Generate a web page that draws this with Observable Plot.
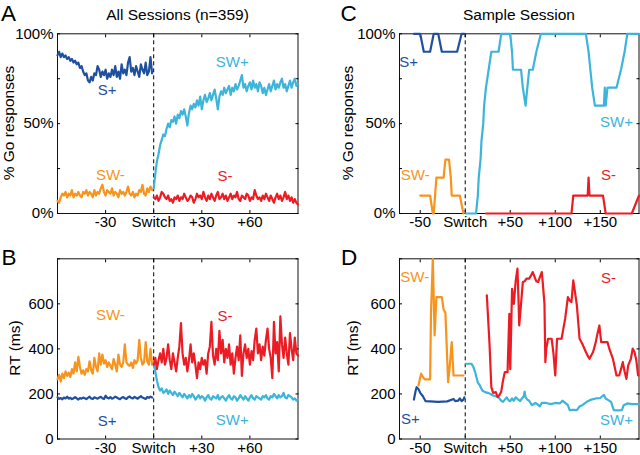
<!DOCTYPE html>
<html><head><meta charset="utf-8">
<script src="https://cdn.jsdelivr.net/npm/d3@7"></script>
<script src="https://cdn.jsdelivr.net/npm/@observablehq/plot@0.6"></script>
<style>
body{margin:0;background:#fff;}
#wrap{position:relative;width:640px;height:455px;overflow:hidden;background:#fff;}
#wrap svg{position:absolute;overflow:visible;max-width:none;}
</style></head><body><div id="wrap"></div>
<script>
// ---------- colours ----------
const colSplus = "#1f4f9f", colSWplus = "#3db4da", colSWminus = "#f7941e", colSminus = "#ec1c24";

// ---------- Panel A: % Go, all sessions ----------
const A_pre = d3.range(-60, 0);   // trials -60..-1
const A_post = d3.range(0, 91);   // trials 0..90
const A_Splus = [88,90,87,89,87,88,86,87,85,86, 84,85,83,84,81,82,79,77,78,74, 73,76,74,78,77,82,80,76,79,77,
  80,75,78,76,80,77,82,76,79,75, 83,78,80,77,84,87,79,81,77,82, 79,76,83,80,78,84,77,79,87,78];
const A_SWminus = [7,6,9,11,10,12,9,11,10,13, 9,11,10,12,10,9,12,11,13,10, 12,11,9,13,10,12,11,14,16,12,
  10,13,12,11,14,10,12,11,9,13, 11,12,10,12,15,11,10,12,9,11, 10,13,12,16,11,10,14,12,15,13];
const A_SWplus = [14,22,29,33,38,41,44,43,47,50, 48,52,51,54,50,55,53,57,55,58, 54,49,56,60,58,61,59,63,60,65,
  58,63,66,62,64,67,63,66,69,64, 58,65,68,66,70,67,69,71,66,70, 68,72,69,71,74,77,70,72,68,71,
  73,69,74,70,72,68,73,71,67,70, 66,69,72,68,71,74,69,72,70,73, 75,70,72,68,71,74,70,73,75,71, 72];
const A_Sminus = [9,8,10,7,9,12,11,9,8,10, 7,8,6,9,8,10,7,9,8,11, 9,7,8,10,9,6,8,11,9,10,
  8,12,9,7,10,8,11,9,7,10, 12,8,9,11,8,10,7,9,11,8, 10,9,12,8,7,10,9,8,11,10,
  7,9,8,13,10,8,9,7,10,8, 11,9,7,10,8,6,9,11,8,10, 7,9,12,8,10,7,9,6,8,6, 5];

// ---------- Panel B: RT, all sessions ----------
const B_Splus = [185,178,182,176,184,180,188,179,183,177, 181,186,180,175,182,179,184,181,177,183,
  188,180,178,185,182,179,184,187,181,178, 192,183,180,186,179,182,188,184,180,177,
  183,186,181,178,185,189,182,180,187,183, 179,185,190,184,181,178,186,183,188,184];
const B_SWminus = [265,285,255,290,270,300,280,295,275,310, 290,340,300,365,320,290,305,285,310,300,
  345,305,290,360,320,300,380,330,375,335, 350,320,340,325,310,355,330,300,375,330,
  320,340,420,340,330,325,340,315,350,335, 350,440,360,330,340,430,345,330,400,330];
const B_SWplus = [335,300,260,230,215,225,205,210,220,200, 215,205,195,210,200,190,205,195,185,200,
  190,180,195,185,200,190,175,185,195,180, 190,185,170,185,195,180,175,190,185,180,
  195,175,185,190,180,170,185,195,180,175, 190,185,170,180,195,185,175,190,180,170,
  185,195,180,175,190,185,180,175,190,185, 195,180,175,190,185,200,190,180,195,185,
  190,205,185,180,195,190,185,175,180,170, 175];
const B_Sminus = [330,360,310,350,380,340,400,330,360,420, 350,310,380,340,300,360,410,515,380,330,
  360,300,350,420,340,380,330,270,340,310, 360,330,350,290,380,410,520,370,330,400,
  350,480,380,440,340,400,360,420,330,380, 290,360,410,350,460,280,380,420,360,400,
  330,390,350,440,490,380,420,350,410,370, 440,490,400,360,270,520,380,430,300,545,
  420,360,450,380,330,470,400,350,450,380, 370];

// ---------- Panel C: % Go, sample session ----------
const C_SplusT = [-57,-50,-46,-39,-35,-30,-26,-9,-4,-1];
const C_SplusV = [100,100,90,90,100,100,90,90,100,100];
const C_SWminusT = [-50,-39,-36,-35,-32,-24,-22,-18,-16,-15,-6,-2];
const C_SWminusV = [10,10,0,0,20,20,30,30,20,10,10,0];
const C_SWplusT = [1,12,14,15,17,18,20,21,23,26,29,31,37,40,50,52,53,62,64,67,69,71,75,79,84,134,137,139,141,144,154,155,156,158,168,173,177,180,193];
const C_SWplusV = [0,0,10,20,30,40,50,60,70,80,90,90,90,100,100,90,80,80,70,60,70,80,80,90,100,100,90,80,70,60,60,70,60,70,70,80,90,100,100];
const C_SminusT = [23,118,120,136,137,138,153,156,185,193];
const C_SminusV = [0,0,10,10,20,10,10,0,0,10];

// ---------- Panel D: RT, sample session ----------
const D_SplusT = [-57,-55,-54,-52,-50,-47,-44,-30,-20,-13,-11,-8,-6,-4,-2,-1];
const D_SplusV = [175,215,230,222,205,190,168,165,167,178,168,170,180,168,175,185];
const D_SWminusT = [-52,-49,-47,-45,-39,-38,-36,-34,-32,-26,-24,-22,-19,-17,-15,-13,-2];
const D_SWminusV = [238,290,275,265,265,560,800,460,630,630,575,560,252,330,430,282,282];
const D_SWplusT = [1,7,9,11,14,16,19,22,25,28,31,34,37,40,42,44,46,48,50,52,54,56,58,61,63,65,66,67,69,71,74,78,80,83,85,90,95,100,105,108,111,114,116,120,124,127,130,135,140,145,150,154,156,158,162,165,170,174,176,180,185,193];
const D_SWplusV = [334,334,320,297,250,240,215,208,205,200,193,190,185,170,165,175,185,172,168,180,170,185,178,168,180,190,210,185,175,170,150,160,155,145,160,160,155,160,158,170,160,150,128,130,128,145,150,165,175,180,182,196,180,175,165,128,127,128,150,158,155,155];
const D_SminusT = [24,27,29,31,34,36,38,40,42,44,47,49,50,51,52,54,56,58,59,60,62,64,66,68,71,73,75,77,79,81,83,85,86,88,89,90,92,96,98,100,102,107,109,111,114,116,118,120,122,124,127,130,134,136,138,142,145,147,149,151,158,160,164,166,168,171,173,175,177,179,181,184,186,188,190,192];
const D_SminusV = [638,420,230,205,208,186,195,210,260,297,297,556,310,480,667,600,700,756,640,504,600,697,700,712,712,725,741,720,700,697,720,741,700,600,341,400,445,445,380,282,445,445,490,534,630,615,608,704,650,593,445,423,386,370,356,386,430,470,504,430,430,401,356,320,282,282,310,341,300,267,327,356,401,386,350,282];

// ---------- tick labels ----------
const A_xTicks = [-30, 0, 30, 60];
const A_xLabels = ["-30", "Switch", "+30", "+60"];
const C_xTicks = [-50, 0, 50, 100, 150];
const C_xLabels = ["-50", "Switch", "+50", "+100", "+150"];
const pct_ticks = [0, 25, 50, 75, 100];
const pct_labelTicks = [0, 50, 100];
const pct_labels = ["0%", "50%", "100%"];
const rt_ticks = [0, 200, 400, 600, 800];
const rt_labelTicks = [0, 200, 400, 600];
const rt_labels = ["0", "200", "400", "600"];

// ---------- series labels (data coords) ----------
const A_textLabels = [
  {t: "S+", x: -29, y: 68.5, c: colSplus}, {t: "SW+", x: 49, y: 84, c: colSWplus},
  {t: "SW-", x: -27, y: 21.5, c: colSWminus}, {t: "S-", x: 44.5, y: 21, c: colSminus}];
const B_textLabels = [
  {t: "SW-", x: -27, y: 549, c: colSWminus}, {t: "S-", x: 44.5, y: 545, c: colSminus},
  {t: "S+", x: -29, y: 79, c: colSplus}, {t: "SW+", x: 49, y: 82, c: colSWplus}];
const C_textLabels = [
  {t: "S+", x: -63, y: 84, c: colSplus}, {t: "SW-", x: -55.5, y: 21.5, c: colSWminus},
  {t: "SW+", x: 168, y: 50.7, c: colSWplus}, {t: "S-", x: 159, y: 21.5, c: colSminus}];
const D_textLabels = [
  {t: "SW-", x: -56, y: 719, c: colSWminus}, {t: "S-", x: 159, y: 712, c: colSminus},
  {t: "S+", x: -61, y: 90, c: colSplus}, {t: "SW+", x: 168, y: 82, c: colSWplus}];

const FONT = "'Liberation Sans', Arial, Helvetica, sans-serif";
const wrap = document.getElementById("wrap");

function makePanel(cfg) {
  const marks = [];
  marks.push(Plot.frame({stroke: "#111", strokeWidth: 1}));
  const blank = () => "";
  marks.push(Plot.axisX({anchor: "bottom", ticks: cfg.xTicks, tickSize: -3, tickFormat: blank, label: null}));
  marks.push(Plot.axisX({anchor: "top", ticks: cfg.xTicks, tickSize: -3, tickFormat: blank, label: null}));
  marks.push(Plot.axisY({anchor: "left", ticks: cfg.yTicks, tickSize: -3, tickFormat: blank, label: null}));
  marks.push(Plot.axisY({anchor: "right", ticks: cfg.yTicks, tickSize: -3, tickFormat: blank, label: null}));
  marks.push(Plot.ruleX([0], {stroke: "#000", strokeWidth: 1, strokeDasharray: "4,3"}));
  for (const s of cfg.series) {
    marks.push(Plot.line(s.y, {x: s.x, y: s.y, stroke: s.color, strokeWidth: 2.2, strokeLinejoin: "round"}));
  }
  marks.push(Plot.axisX({anchor: "bottom", ticks: cfg.xTicks, tickSize: 0, tickPadding: 3,
    tickFormat: d => cfg.xLabels[cfg.xTicks.indexOf(d)], label: null, fontSize: 15}));
  marks.push(Plot.axisY({anchor: "left", ticks: cfg.yLabelTicks, tickSize: 0, tickPadding: 4,
    tickFormat: d => cfg.yLabels[cfg.yLabelTicks.indexOf(d)], label: null, fontSize: 15}));
  for (const l of cfg.labels) {
    marks.push(Plot.text([l], {x: "x", y: "y", text: "t", fill: l.c, fontSize: 15, textAnchor: "middle"}));
  }
  const svg = Plot.plot({
    width: cfg.width, height: cfg.height,
    marginLeft: cfg.ml, marginRight: cfg.mr, marginTop: cfg.mt, marginBottom: cfg.mb,
    x: {domain: cfg.xDomain}, y: {domain: cfg.yDomain},
    style: {fontFamily: FONT, fontSize: "15px", color: "#000", overflow: "visible", background: "transparent"},
    marks
  });
  svg.style.left = cfg.left + "px";
  svg.style.top = cfg.top + "px";
  wrap.appendChild(svg);
}

makePanel({left: 0, top: 0, width: 320, height: 230, ml: 57, mr: 22.5, mt: 33.3, mb: 17,
  xDomain: [-60, 90], yDomain: [0, 100], xTicks: A_xTicks, xLabels: A_xLabels,
  yTicks: pct_ticks, yLabelTicks: pct_labelTicks, yLabels: pct_labels, labels: A_textLabels,
  series: [
    {x: A_pre, y: A_Splus, color: colSplus}, {x: A_pre, y: A_SWminus, color: colSWminus},
    {x: A_post, y: A_SWplus, color: colSWplus}, {x: A_post, y: A_Sminus, color: colSminus}]});

makePanel({left: 0, top: 230, width: 320, height: 225, ml: 57, mr: 22.5, mt: 28.3, mb: 16.5,
  xDomain: [-60, 90], yDomain: [0, 800], xTicks: A_xTicks, xLabels: A_xLabels,
  yTicks: rt_ticks, yLabelTicks: rt_labelTicks, yLabels: rt_labels, labels: B_textLabels,
  series: [
    {x: A_pre, y: B_Splus, color: colSplus}, {x: A_pre, y: B_SWminus, color: colSWminus},
    {x: A_post, y: B_SWplus, color: colSWplus}, {x: A_post, y: B_Sminus, color: colSminus}]});

makePanel({left: 320, top: 0, width: 320, height: 230, ml: 79, mr: 1.5, mt: 33.3, mb: 17,
  xDomain: [-73, 193], yDomain: [0, 100], xTicks: C_xTicks, xLabels: C_xLabels,
  yTicks: pct_ticks, yLabelTicks: pct_labelTicks, yLabels: pct_labels, labels: C_textLabels,
  series: [
    {x: C_SplusT, y: C_SplusV, color: colSplus}, {x: C_SWminusT, y: C_SWminusV, color: colSWminus},
    {x: C_SWplusT, y: C_SWplusV, color: colSWplus}, {x: C_SminusT, y: C_SminusV, color: colSminus}]});

makePanel({left: 320, top: 230, width: 320, height: 225, ml: 79, mr: 1.5, mt: 28.3, mb: 16.5,
  xDomain: [-73, 193], yDomain: [0, 800], xTicks: C_xTicks, xLabels: C_xLabels,
  yTicks: rt_ticks, yLabelTicks: rt_labelTicks, yLabels: rt_labels, labels: D_textLabels,
  series: [
    {x: D_SplusT, y: D_SplusV, color: colSplus}, {x: D_SWminusT, y: D_SWminusV, color: colSWminus},
    {x: D_SWplusT, y: D_SWplusV, color: colSWplus}, {x: D_SminusT, y: D_SminusV, color: colSminus}]});

// ---------- overlay: panel letters, titles, y labels ----------
const ov = d3.select(wrap).append("svg").attr("width", 640).attr("height", 455)
  .style("left", "0px").style("top", "0px").style("pointer-events", "none")
  .style("font-family", FONT);
const letters = [{t: "A", x: 1, y: 21}, {t: "B", x: 1.5, y: 264.5}, {t: "C", x: 340.5, y: 21}, {t: "D", x: 341, y: 265}];
ov.selectAll("text.letter").data(letters).join("text").attr("class", "letter")
  .attr("x", d => d.x).attr("y", d => d.y).attr("font-size", 22.5).text(d => d.t);
const titles = [{t: "All Sessions (n=359)", x: 177.5, y: 20}, {t: "Sample Session", x: 519, y: 20}];
ov.selectAll("text.title").data(titles).join("text").attr("class", "title")
  .attr("x", d => d.x).attr("y", d => d.y).attr("font-size", 15.5).attr("text-anchor", "middle").text(d => d.t);
const ylabels = [{t: "% Go responses", x: 14, y: 123}, {t: "RT (ms)", x: 20, y: 348},
  {t: "% Go responses", x: 352.5, y: 123}, {t: "RT (ms)", x: 358, y: 348}];
ov.selectAll("text.ylab").data(ylabels).join("text").attr("class", "ylab")
  .attr("transform", d => `translate(${d.x},${d.y}) rotate(-90)`)
  .attr("font-size", 15.5).attr("text-anchor", "middle").text(d => d.t);
</script></body></html>
